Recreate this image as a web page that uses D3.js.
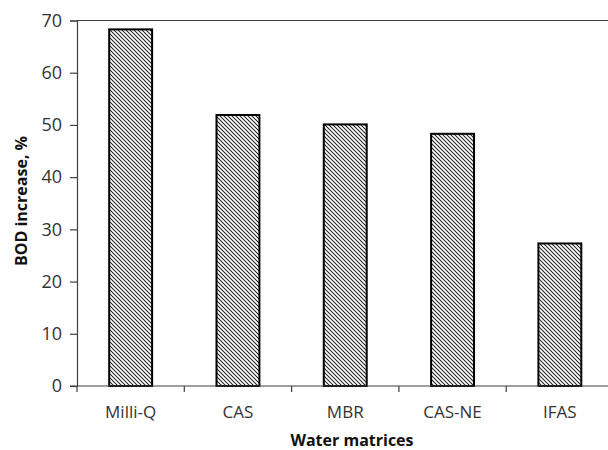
<!DOCTYPE html>
<html>
<head>
<meta charset="utf-8">
<script src="https://cdn.jsdelivr.net/npm/d3@7"></script>
<style>
  html, body { margin: 0; padding: 0; background: #fff; }
  svg { display: block; }
  text { font-family: "Open Sans", "Noto Sans", sans-serif; }
</style>
</head>
<body>
<svg id="chart" width="608" height="450"></svg>
<script>
// BOD increase per water matrix
const categories = ["Milli-Q", "CAS", "MBR", "CAS-NE", "IFAS"];
const bodIncrease = [68.3, 51.9, 50.1, 48.3, 27.3];
const yTicks = [0, 10, 20, 30, 40, 50, 60, 70];

const svg = d3.select("#chart");
const plotLeft = 77, plotTop = 20.5, plotBottom = 386, plotRight = 613.5;

const x = d3.scaleBand().domain(categories).range([plotLeft, plotRight]).paddingInner(0.6).paddingOuter(0.3);
const xEdges = d3.scaleLinear().domain([0, categories.length]).range([plotLeft, plotRight]);
const y = d3.scaleLinear().domain([0, 70]).range([plotBottom, plotTop]);

// hatch fill for the bars
const defs = svg.append("defs");
const pat = defs.append("pattern")
  .attr("id", "hatch").attr("patternUnits", "userSpaceOnUse")
  .attr("width", 4).attr("height", 4);
pat.append("rect").attr("width", 4).attr("height", 4).attr("fill", "#fff");
pat.append("path")
  .attr("d", "M-1,-1 L5,5 M-1,3 L1,5 M3,-1 L5,1")
  .attr("stroke", "#222").attr("stroke-width", 1.05);

// top frame line
svg.append("line")
  .attr("x1", plotLeft).attr("x2", 608).attr("y1", y(70)).attr("y2", y(70))
  .attr("stroke", "#404040").attr("stroke-width", 1.2);

// bars
svg.append("g").selectAll("rect")
  .data(categories)
  .join("rect")
  .attr("x", d => x(d))
  .attr("width", x.bandwidth())
  .attr("y", (d, i) => y(bodIncrease[i]))
  .attr("height", (d, i) => y(0) - y(bodIncrease[i]))
  .attr("fill", "url(#hatch)")
  .attr("stroke", "#000")
  .attr("stroke-width", 2);

// y axis
const yAxis = svg.append("g").attr("transform", `translate(${plotLeft},0)`)
  .call(d3.axisLeft(y).tickValues(yTicks).tickSize(7).tickPadding(8).tickFormat(d3.format("d")));
yAxis.select(".domain").attr("stroke", "#404040").attr("stroke-width", 1.2);
yAxis.selectAll(".tick line").attr("stroke", "#404040").attr("stroke-width", 1.2);
yAxis.selectAll(".tick text").attr("fill", "#333").attr("font-size", 18)
  .attr("font-family", "'Open Sans', sans-serif");

// x axis baseline with boundary ticks
const gx = svg.append("g");
gx.append("line")
  .attr("x1", plotLeft - 7).attr("x2", 608).attr("y1", y(0)).attr("y2", y(0))
  .attr("stroke", "#404040").attr("stroke-width", 1.2);
gx.selectAll("line.edge")
  .data(d3.range(categories.length + 1))
  .join("line").attr("class", "edge")
  .attr("x1", d => xEdges(d)).attr("x2", d => xEdges(d))
  .attr("y1", y(0)).attr("y2", y(0) + 6)
  .attr("stroke", "#404040").attr("stroke-width", 1.2);
gx.selectAll("text")
  .data(categories)
  .join("text")
  .attr("x", d => x(d) + x.bandwidth() / 2)
  .attr("y", 418)
  .attr("text-anchor", "middle")
  .attr("fill", "#333")
  .attr("font-size", 17)
  .text(d => d);

// axis titles
svg.append("text")
  .attr("transform", "translate(27,201) rotate(-90)")
  .attr("text-anchor", "middle")
  .attr("font-weight", "bold")
  .attr("font-size", 16)
  .attr("fill", "#111")
  .text("BOD increase, %");

svg.append("text")
  .attr("x", 352).attr("y", 446)
  .attr("text-anchor", "middle")
  .attr("font-weight", "bold")
  .attr("font-size", 16)
  .attr("fill", "#111")
  .text("Water matrices");
</script>
</body>
</html>
